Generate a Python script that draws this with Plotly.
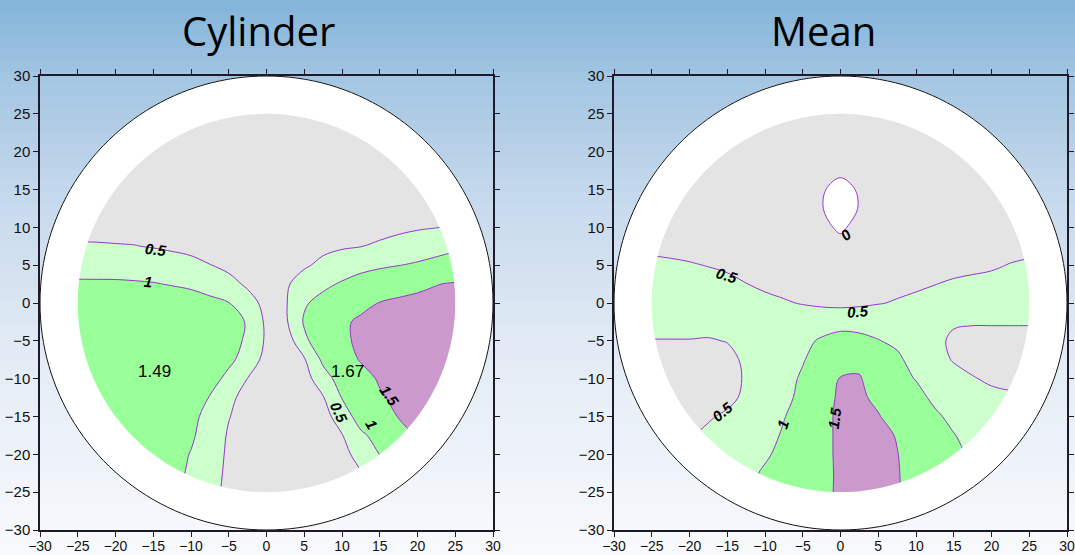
import math
import plotly.graph_objects as go

# ---------------- data ----------------
x_vals = [-25, -22.5, -20, -17.5, -15, -12.5, -10, -7.5, -5, -2.5, 0,
          2.5, 5, 7.5, 10, 12.5, 15, 17.5, 20, 22.5, 25]
# rows listed from top (y=25) to bottom (y=-25)
y_rows = [25, 22.5, 20, 17.5, 15, 12.5, 10, 7.5, 5, 2.5, 0,
          -2.5, -5, -7.5, -10, -12.5, -15, -17.5, -20, -22.5, -25]

cylinder_z = [
    [0.3, 0.3, 0.29, 0.28, 0.27, 0.26, 0.25, 0.24, 0.23, 0.22, 0.22, 0.22, 0.23, 0.24, 0.25, 0.26, 0.27, 0.28, 0.29, 0.3, 0.3],
    [0.31, 0.31, 0.3, 0.29, 0.28, 0.27, 0.26, 0.24, 0.22, 0.21, 0.2, 0.21, 0.22, 0.24, 0.26, 0.27, 0.28, 0.3, 0.31, 0.32, 0.33],
    [0.32, 0.32, 0.31, 0.3, 0.29, 0.27, 0.25, 0.23, 0.21, 0.2, 0.19, 0.2, 0.21, 0.23, 0.25, 0.27, 0.29, 0.31, 0.32, 0.33, 0.34],
    [0.33, 0.33, 0.32, 0.31, 0.29, 0.27, 0.25, 0.23, 0.21, 0.19, 0.18, 0.19, 0.2, 0.22, 0.24, 0.27, 0.29, 0.31, 0.33, 0.35, 0.37],
    [0.34, 0.33, 0.32, 0.31, 0.29, 0.27, 0.25, 0.23, 0.21, 0.19, 0.17, 0.17, 0.18, 0.2, 0.22, 0.25, 0.28, 0.31, 0.34, 0.37, 0.4],
    [0.36, 0.35, 0.34, 0.33, 0.31, 0.29, 0.27, 0.25, 0.22, 0.2, 0.18, 0.18, 0.2, 0.23, 0.26, 0.29, 0.32, 0.35, 0.38, 0.41, 0.46],
    [0.4, 0.39, 0.38, 0.37, 0.35, 0.32, 0.3, 0.27, 0.24, 0.22, 0.2, 0.2, 0.22, 0.26, 0.3, 0.34, 0.37, 0.41, 0.45, 0.49, 0.55],
    [0.53, 0.53, 0.52, 0.51, 0.48, 0.44, 0.4, 0.35, 0.3, 0.26, 0.22, 0.25, 0.3, 0.38, 0.45, 0.49, 0.56, 0.65, 0.77, 0.85, 0.92],
    [0.77, 0.76, 0.75, 0.73, 0.7, 0.66, 0.6, 0.51, 0.38, 0.3, 0.25, 0.3, 0.43, 0.62, 0.75, 0.85, 0.93, 0.99, 1.05, 1.12, 1.2],
    [1.08, 1.08, 1.08, 1.06, 1.03, 0.97, 0.9, 0.8, 0.66, 0.42, 0.3, 0.42, 0.75, 0.9, 1.05, 1.2, 1.3, 1.38, 1.43, 1.49, 1.53],
    [1.25, 1.3, 1.32, 1.33, 1.32, 1.3, 1.25, 1.12, 1.01, 0.7, 0.35, 0.45, 0.95, 1.15, 1.3, 1.42, 1.51, 1.55, 1.58, 1.6, 1.6],
    [1.3, 1.36, 1.4, 1.42, 1.42, 1.4, 1.35, 1.25, 1.1, 0.98, 0.4, 0.42, 1.05, 1.3, 1.45, 1.55, 1.6, 1.62, 1.63, 1.64, 1.64],
    [1.33, 1.4, 1.44, 1.47, 1.47, 1.45, 1.4, 1.3, 1.12, 0.95, 0.42, 0.2, 0.9, 1.3, 1.45, 1.55, 1.6, 1.64, 1.66, 1.67, 1.67],
    [1.35, 1.42, 1.46, 1.48, 1.48, 1.46, 1.4, 1.28, 1.08, 0.85, 0.3, 0.2, 0.45, 1.1, 1.38, 1.52, 1.6, 1.65, 1.67, 1.67, 1.66],
    [1.35, 1.42, 1.46, 1.49, 1.48, 1.45, 1.35, 1.15, 0.9, 0.49, 0.28, 0.2, 0.3, 0.8, 1.2, 1.4, 1.53, 1.6, 1.64, 1.65, 1.64],
    [1.32, 1.4, 1.44, 1.46, 1.45, 1.38, 1.22, 0.98, 0.6, 0.35, 0.25, 0.2, 0.28, 0.47, 1.02, 1.3, 1.47, 1.56, 1.6, 1.62, 1.6],
    [1.3, 1.36, 1.4, 1.42, 1.4, 1.3, 1.12, 0.85, 0.52, 0.3, 0.22, 0.18, 0.25, 0.35, 0.7, 1.25, 1.4, 1.51, 1.55, 1.57, 1.55],
    [1.25, 1.32, 1.36, 1.36, 1.32, 1.22, 1.06, 0.8, 0.45, 0.28, 0.2, 0.18, 0.22, 0.3, 0.48, 0.9, 1.2, 1.4, 1.52, 1.55, 1.55],
    [1.2, 1.28, 1.3, 1.3, 1.26, 1.16, 0.98, 0.75, 0.42, 0.27, 0.2, 0.18, 0.2, 0.27, 0.4, 0.62, 1.01, 1.25, 1.4, 1.48, 1.5],
    [1.15, 1.22, 1.25, 1.25, 1.2, 1.1, 0.95, 0.7, 0.4, 0.26, 0.2, 0.18, 0.2, 0.25, 0.35, 0.49, 0.82, 1.1, 1.3, 1.45, 1.49],
    [1.1, 1.15, 1.2, 1.2, 1.15, 1.05, 0.9, 0.65, 0.38, 0.25, 0.2, 0.18, 0.2, 0.24, 0.32, 0.45, 0.75, 0.98, 1.2, 1.35, 1.45],
]

mean_z = [
    [0.4, 0.4, 0.38, 0.36, 0.34, 0.32, 0.3, 0.28, 0.27, 0.26, 0.25, 0.26, 0.27, 0.28, 0.3, 0.32, 0.34, 0.36, 0.38, 0.4, 0.4],
    [0.4, 0.38, 0.36, 0.34, 0.32, 0.3, 0.28, 0.25, 0.22, 0.2, 0.19, 0.2, 0.22, 0.25, 0.28, 0.3, 0.32, 0.34, 0.36, 0.38, 0.4],
    [0.4, 0.38, 0.36, 0.34, 0.32, 0.29, 0.26, 0.22, 0.18, 0.14, 0.12, 0.14, 0.18, 0.22, 0.26, 0.29, 0.32, 0.34, 0.36, 0.38, 0.4],
    [0.4, 0.38, 0.36, 0.34, 0.32, 0.29, 0.25, 0.2, 0.15, 0.1, 0.06, 0.1, 0.15, 0.2, 0.25, 0.29, 0.32, 0.34, 0.36, 0.38, 0.4],
    [0.4, 0.38, 0.36, 0.34, 0.32, 0.28, 0.24, 0.19, 0.13, 0.03, -0.1, 0.03, 0.13, 0.19, 0.24, 0.28, 0.32, 0.34, 0.36, 0.38, 0.4],
    [0.41, 0.39, 0.37, 0.35, 0.32, 0.28, 0.24, 0.19, 0.14, 0.01, -0.1, 0.01, 0.14, 0.19, 0.24, 0.28, 0.32, 0.35, 0.37, 0.39, 0.41],
    [0.42, 0.4, 0.38, 0.36, 0.33, 0.3, 0.26, 0.21, 0.16, 0.06, -0.04, 0.08, 0.16, 0.21, 0.26, 0.3, 0.33, 0.36, 0.38, 0.4, 0.42],
    [0.44, 0.43, 0.41, 0.39, 0.36, 0.33, 0.29, 0.24, 0.19, 0.12, 0.08, 0.14, 0.19, 0.24, 0.29, 0.33, 0.36, 0.39, 0.41, 0.42, 0.43],
    [0.56, 0.54, 0.52, 0.49, 0.46, 0.42, 0.38, 0.33, 0.29, 0.25, 0.22, 0.26, 0.29, 0.33, 0.38, 0.41, 0.43, 0.45, 0.47, 0.51, 0.54],
    [0.64, 0.62, 0.6, 0.6, 0.56, 0.505, 0.45, 0.4, 0.36, 0.33, 0.3, 0.33, 0.36, 0.4, 0.45, 0.495, 0.53, 0.55, 0.57, 0.6, 0.62],
    [0.7, 0.69, 0.68, 0.66, 0.64, 0.6, 0.57, 0.53, 0.48, 0.42, 0.38, 0.42, 0.48, 0.53, 0.57, 0.6, 0.62, 0.64, 0.65, 0.66, 0.67],
    [0.6, 0.6, 0.6, 0.6, 0.6, 0.62, 0.65, 0.68, 0.72, 0.8, 0.85, 0.83, 0.78, 0.72, 0.66, 0.6, 0.53, 0.52, 0.52, 0.52, 0.52],
    [0.49, 0.49, 0.49, 0.48, 0.51, 0.56, 0.62, 0.75, 0.9, 1.05, 1.15, 1.12, 1.02, 0.9, 0.72, 0.57, 0.45, 0.42, 0.42, 0.42, 0.42],
    [0.4, 0.4, 0.4, 0.4, 0.42, 0.55, 0.65, 0.8, 0.97, 1.2, 1.35, 1.4, 1.3, 1.1, 0.8, 0.6, 0.48, 0.4, 0.38, 0.38, 0.38],
    [0.38, 0.38, 0.38, 0.38, 0.4, 0.53, 0.7, 0.85, 1.06, 1.3, 1.52, 1.53, 1.3, 1.15, 0.98, 0.72, 0.6, 0.52, 0.45, 0.42, 0.42],
    [0.38, 0.38, 0.38, 0.4, 0.42, 0.56, 0.72, 0.9, 1.1, 1.35, 1.56, 1.58, 1.4, 1.3, 1.15, 0.9, 0.72, 0.62, 0.58, 0.55, 0.55],
    [0.42, 0.43, 0.45, 0.47, 0.55, 0.66, 0.78, 0.98, 1.2, 1.38, 1.58, 1.62, 1.53, 1.3, 1.2, 1.08, 0.88, 0.75, 0.68, 0.65, 0.65],
    [0.45, 0.46, 0.48, 0.56, 0.64, 0.72, 0.85, 1.05, 1.25, 1.38, 1.58, 1.63, 1.6, 1.48, 1.3, 1.12, 1.02, 0.85, 0.75, 0.7, 0.7],
    [0.52, 0.55, 0.6, 0.66, 0.72, 0.8, 0.95, 1.1, 1.25, 1.38, 1.58, 1.63, 1.62, 1.51, 1.35, 1.2, 1.08, 0.95, 0.85, 0.8, 0.8],
    [0.6, 0.65, 0.7, 0.75, 0.8, 0.9, 1.05, 1.15, 1.27, 1.38, 1.57, 1.63, 1.62, 1.52, 1.38, 1.25, 1.12, 1.02, 0.9, 0.85, 0.85],
    [0.65, 0.7, 0.75, 0.8, 0.85, 0.92, 1.08, 1.18, 1.28, 1.39, 1.57, 1.63, 1.62, 1.52, 1.4, 1.28, 1.15, 1.05, 0.95, 0.9, 0.9],
]

panel_titles = ["Cylinder", "Mean"]
# peak-value labels (both in the Cylinder panel)
peak_labels = ["1.49", "1.67"]
peak_x = [-14.8, 10.7]
peak_y = [-9.0, -9.0]
# contour level labels: panel index, text, x, y, angle
level_label_panel = [0, 0, 0, 0, 0, 1, 1, 1, 1, 1, 1]
level_label_text = ["0.5", "1", "0.5", "1", "1.5", "0", "0.5", "0.5", "0.5", "1", "1.5"]
level_label_x = [-14.7, -15.7, 9.6, 13.9, 16.3, 0.7, -15.0, 2.3, -15.6, -7.7, -0.8]
level_label_y = [7.1, 2.8, -14.5, -16.1, -12.2, 9.1, 3.6, -1.1, -14.4, -16.0, -15.1]
level_label_angle = [6, 5, 65, 60, 55, -40, 17, -4, -40, -72, -82]

tick_values = [-30, -25, -20, -15, -10, -5, 0, 5, 10, 15, 20, 25, 30]
contour_start, contour_end, contour_step = 0, 1.5, 0.5

# ---------------- styling ----------------
W, H = 1075, 555
panels_px = [(40, 493, 76, 530), (614, 1067, 76, 530)]   # x0, x1, ytop, ybot
title_px = [258, 824]

C_WHITE = "#ffffff"
C_GRAY = "#e4e4e4"
C_LGREEN = "#ccffcc"
C_GREEN = "#99ff99"
C_PURPLE = "#cc99cc"
colorscale = [
    [0.0, C_WHITE], [0.25, C_WHITE],
    [0.25, C_GRAY], [0.5, C_GRAY],
    [0.5, C_LGREEN], [0.75, C_LGREEN],
    [0.75, C_GREEN], [0.95, C_GREEN],
    [0.95, C_PURPLE], [1.0, C_PURPLE],
]
LINE_C = "#9932cc"
AXIS_C = "#1f1a2a"

grad_stops = [(0, (130, 180, 216)), (80, (164, 198, 226)), (200, (198, 217, 236)),
              (350, (226, 235, 245)), (555, (248, 250, 253))]


def grad(py):
    for (p0, c0), (p1, c1) in zip(grad_stops[:-1], grad_stops[1:]):
        if p0 <= py <= p1:
            t = (py - p0) / (p1 - p0)
            return "rgb(%d,%d,%d)" % tuple(round(a + (b - a) * t) for a, b in zip(c0, c1))
    return "rgb(%d,%d,%d)" % grad_stops[-1][1]


def circle_pts(r, n=180):
    return [(r * math.cos(2 * math.pi * k / n), r * math.sin(2 * math.pi * k / n)) for k in range(n)]


def subpath(pts):
    return "M " + " L ".join("%.4f,%.4f" % p for p in pts) + " Z"


fig = go.Figure()
shapes = []
annotations = []
BAND = 12

# background gradient bands over the whole figure
for k in range(0, H, BAND):
    shapes.append(dict(type="rect", xref="paper", yref="paper", layer="below",
                       x0=0, x1=1, y0=1 - min(H, k + BAND + 1) / H, y1=1 - k / H,
                       fillcolor=grad(k + BAND / 2), line=dict(width=0)))

axis_names = [("x", "y"), ("x2", "y2")]
y_asc = list(reversed(y_rows))
for i, (zrows, title) in enumerate(zip([cylinder_z, mean_z], panel_titles)):
    xa, ya = axis_names[i]
    fig.add_trace(go.Contour(
        x=x_vals, y=y_asc, z=list(reversed(zrows)),
        xaxis=xa, yaxis=ya,
        colorscale=colorscale, showscale=False, hoverinfo="skip",
        contours=dict(start=contour_start, end=contour_end, size=contour_step,
                      coloring="fill", showlabels=False),
        line=dict(color=LINE_C, width=1, smoothing=1),
    ))
    x0p, x1p, ytp, ybp = panels_px[i]
    # corner masks (outside the r=30 circle) in gradient bands
    for k in range(0, H, BAND):
        pa, pb = max(k, ytp), min(k + BAND, ybp)
        if pb <= pa:
            continue
        yb = 30 - (pa - ytp) / (ybp - ytp) * 60 + 0.05
        yl = 30 - (pb - ytp) / (ybp - ytp) * 60 - 0.05
        yb, yl = min(30, yb), max(-30, yl)
        n = 8
        ys = [yb + (yl - yb) * j / n for j in range(n + 1)]
        for side in (-1, 1):
            pts = [(side * 30.6, yl), (side * 30.6, yb)]
            pts += [(side * math.sqrt(max(0.0, 900 - yy * yy)), yy) for yy in ys]
            shapes.append(dict(type="path", xref=xa, yref=ya, layer="above",
                               path=subpath(pts), fillcolor=grad((pa + pb) / 2),
                               line=dict(width=0)))
    # white ring between r=25 and r=30
    ring = subpath(circle_pts(30.05)) + " " + subpath(circle_pts(25))
    shapes.append(dict(type="path", xref=xa, yref=ya, layer="above", path=ring,
                       fillcolor="white", fillrule="evenodd", line=dict(width=0)))
    shapes.append(dict(type="path", xref=xa, yref=ya, layer="above",
                       path=subpath(circle_pts(30)), fillcolor="rgba(0,0,0,0)",
                       line=dict(color="#111111", width=1)))
    annotations.append(dict(xref="paper", yref="paper", x=title_px[i] / W, y=1 - 30 / H,
                            text=title, showarrow=False, xanchor="center", yanchor="middle",
                            font=dict(family="Open Sans", size=40, color="black")))

for lbl, px_, py_ in zip(peak_labels, peak_x, peak_y):
    annotations.append(dict(xref="x", yref="y", x=px_, y=py_, text=lbl, showarrow=False,
                            font=dict(family="Liberation Sans", size=17, color="black")))

for p, t, lx, ly, ang in zip(level_label_panel, level_label_text, level_label_x,
                             level_label_y, level_label_angle):
    xa, ya = axis_names[p]
    annotations.append(dict(xref=xa, yref=ya, x=lx, y=ly, text="<b><i>%s</i></b>" % t,
                            showarrow=False, textangle=ang,
                            font=dict(family="Liberation Sans", size=15, color="black")))

axis_common = dict(range=[-30, 30], tickvals=tick_values, ticks="outside", ticklen=5,
                   tickcolor=AXIS_C, tickwidth=1, mirror="ticks", showline=True,
                   linecolor=AXIS_C, linewidth=1.5, showgrid=False, zeroline=False,
                   automargin=False,
                   tickfont=dict(family="Liberation Sans", size=15, color="#111111"),
                   fixedrange=True)

layout_axes = {}
for i, (xa, ya) in enumerate([("xaxis", "yaxis"), ("xaxis2", "yaxis2")]):
    x0p, x1p, ytp, ybp = panels_px[i]
    layout_axes[xa] = dict(axis_common, domain=[x0p / W, x1p / W],
                           anchor="y" if i == 0 else "y2", ticklabelstandoff=-3,
                           tickfont=dict(family="Liberation Sans", size=14, color="#111111"))
    layout_axes[ya] = dict(axis_common, domain=[1 - ybp / H, 1 - ytp / H],
                           anchor="x" if i == 0 else "x2")

fig.update_layout(
    width=W, height=H,
    margin=dict(l=0, r=0, t=0, b=0, pad=0, autoexpand=False),
    paper_bgcolor="white", plot_bgcolor="rgba(0,0,0,0)",
    showlegend=False,
    shapes=shapes, annotations=annotations,
    **layout_axes,
)

fig.write_html("out.html", config={"displayModeBar": False},
               post_script="document.body.style.margin='0';document.body.style.overflow='hidden';")
